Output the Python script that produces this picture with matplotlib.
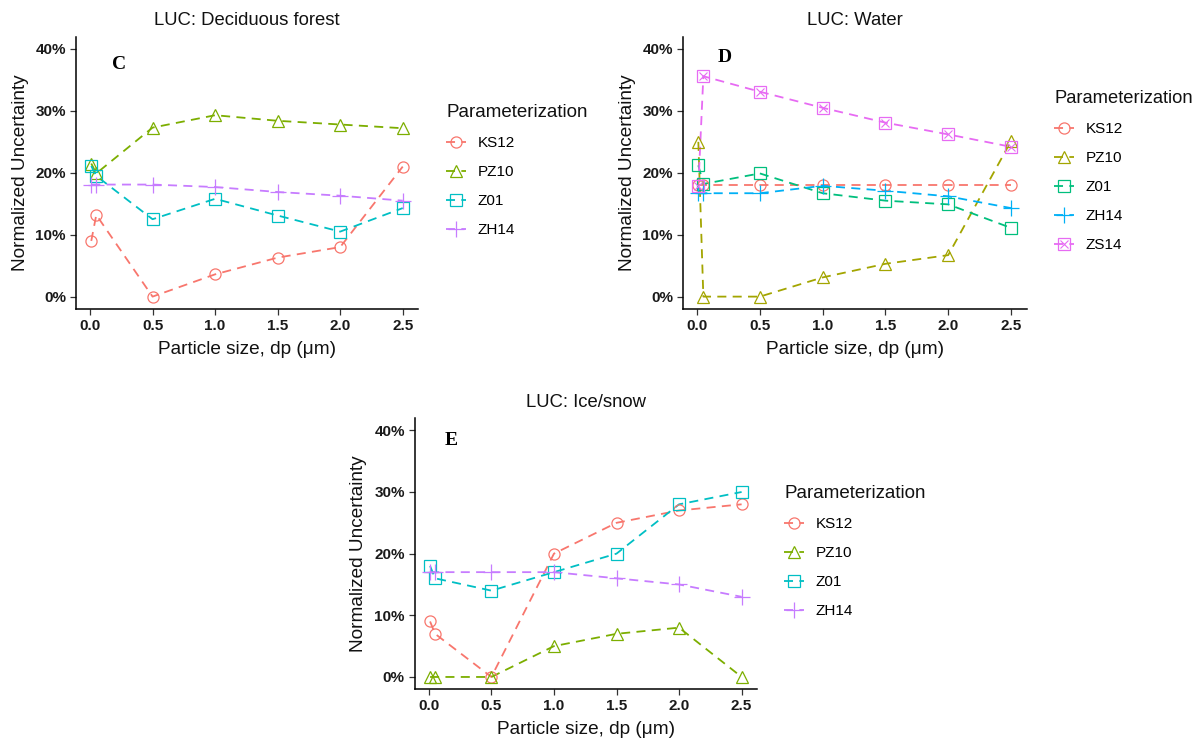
import matplotlib
matplotlib.use("Agg")
import matplotlib.pyplot as plt
from matplotlib.ticker import FuncFormatter
from matplotlib.lines import Line2D

plt.rcParams['font.family'] = ['Liberation Sans', 'DejaVu Sans']

# ---------------- data ----------------
dp = [0.01, 0.05, 0.5, 1.0, 1.5, 2.0, 2.5]

# Panel C: Deciduous forest
c_ks12 = [9.0, 13.2, 0.0, 3.6, 6.3, 8.0, 21.0]
c_pz10 = [21.5, 19.9, 27.3, 29.3, 28.4, 27.8, 27.2]
c_z01 = [21.1, 19.5, 12.5, 15.8, 13.1, 10.5, 14.3]
c_zh14 = [18.1, 18.1, 18.1, 17.7, 16.9, 16.3, 15.5]

# Panel D: Water
d_ks12 = [18.0, 18.0, 18.0, 18.0, 18.0, 18.0, 18.0]
d_pz10 = [25.0, 0.0, 0.0, 3.1, 5.3, 6.7, 25.1]
d_z01 = [21.2, 18.2, 19.9, 16.7, 15.5, 14.9, 11.1]
d_zh14 = [16.7, 16.7, 16.7, 17.9, 17.1, 16.2, 14.3]
d_zs14 = [17.8, 35.6, 33.1, 30.5, 28.1, 26.2, 24.2]

# Panel E: Ice/snow
e_ks12 = [9.0, 7.0, 0.0, 20.0, 25.0, 27.0, 28.0]
e_pz10 = [0.0, 0.0, 0.0, 5.0, 7.0, 8.0, 0.0]
e_z01 = [18.0, 16.0, 14.0, 17.0, 20.0, 28.0, 30.0]
e_zh14 = [17.0, 17.0, 17.0, 17.0, 16.0, 15.0, 13.0]

y_ticks = [0, 10, 20, 30, 40]
x_ticks = [0.0, 0.5, 1.0, 1.5, 2.0, 2.5]

# ---------------- style ----------------
W, H = 1198, 738
fig = plt.figure(figsize=(W / 100, H / 100), dpi=100)

def add_axes(l, r, t, b):
    return fig.add_axes([l / W, 1 - b / H, (r - l) / W, (b - t) / H])

four_cols = ['#F8766D', '#7CAE00', '#00BFC4', '#C77CFF']
five_cols = ['#F8766D', '#A3A500', '#00BF7D', '#00B0F6', '#E76BF3']
markers = ['o', '^', 's', '+', 'boxx']
DASH = (0, (5, 3.5))

def draw_marker(ax, x, y, m, col):
    if m == 'boxx':
        ax.plot(x, y, ls='none', marker='s', ms=8, mfc='none', mec=col, mew=0.9, zorder=3)
        ax.plot(x, y, ls='none', marker='x', ms=5.5, mec=col, mew=0.8, zorder=3)
    elif m == '+':
        ax.plot(x, y, ls='none', marker='+', ms=11, mec=col, mew=0.9, zorder=3)
    elif m == '^':
        ax.plot(x, y, ls='none', marker='^', ms=9, mfc='none', mec=col, mew=0.9, zorder=3)
    else:
        ax.plot(x, y, ls='none', marker=m, ms=8, mfc='none', mec=col, mew=0.9, zorder=3)

def legend_handle(m, col):
    if m == 'boxx':
        return (Line2D([], [], color=col, ls=DASH, lw=1.3, marker='s', ms=8,
                       mfc='none', mec=col, mew=0.9),
                Line2D([], [], ls='none', marker='x', ms=5.5, mec=col, mew=0.8))
    if m == '+':
        return Line2D([], [], color=col, ls=DASH, lw=1.3, marker='+', ms=11, mew=0.9)
    return Line2D([], [], color=col, ls=DASH, lw=1.3, marker=m, ms=8 if m != '^' else 9,
                  mfc='none', mec=col, mew=0.9)

def panel(ax, title, letter, letter_xy, series, names, cols, legend_pos, title_fs=13.5):
    for vals, m, col in zip(series, markers, cols):
        yv = [v / 100 for v in vals]
        ax.plot(dp, yv, ls=DASH, color=col, lw=1.3, zorder=2)
        draw_marker(ax, dp, yv, m, col)
    ax.set_xlim(-0.1145, 2.6245)
    ax.set_ylim(-0.02, 0.42)
    ax.set_xticks(x_ticks)
    ax.set_yticks([t / 100 for t in y_ticks])
    ax.xaxis.set_major_formatter(FuncFormatter(lambda v, p: f"{v:.1f}"))
    ax.yaxis.set_major_formatter(FuncFormatter(lambda v, p: f"{v * 100:.0f}%"))
    for s in ['top', 'right']:
        ax.spines[s].set_visible(False)
    for s in ['left', 'bottom']:
        ax.spines[s].set_linewidth(1.1)
        ax.spines[s].set_color('black')
    ax.tick_params(axis='both', length=4, width=0.9, color='#333333',
                   labelsize=11, pad=3)
    for lab in ax.get_xticklabels() + ax.get_yticklabels():
        lab.set_fontweight('bold')
        lab.set_color('#1a1a1a')
    ax.set_xlabel('Particle size, dp (μm)', fontsize=13.7, color='#111111', labelpad=6)
    ax.set_ylabel('Normalized Uncertainty', fontsize=13.7, color='#111111', labelpad=5)
    ax.set_title(title, fontsize=13.3, color='#111111', pad=8)
    ax.text(letter_xy[0], letter_xy[1], letter, fontsize=14, fontweight='bold',
            family='Liberation Serif', ha='center', va='center')
    handles = [legend_handle(m, c) for m, c in zip(markers, cols)]
    leg = ax.legend(handles, names, title='Parameterization', loc='upper left',
                    bbox_to_anchor=legend_pos, bbox_transform=fig.transFigure,
                    frameon=False, fontsize=11, title_fontsize=title_fs,
                    handlelength=1.3, handletextpad=0.75, labelspacing=0.98,
                    alignment='left', borderaxespad=0)
    leg.get_title().set_color('#111111')

axC = add_axes(75.7, 418.3, 36.6, 309)
panel(axC, 'LUC: Deciduous forest', 'C', (0.23, 0.375),
      [c_ks12, c_pz10, c_z01, c_zh14], ['KS12', 'PZ10', 'Z01', 'ZH14'],
      four_cols, (440 / W, 1 - 98 / H))

axD = add_axes(682.7, 1026.6, 36.6, 309)
panel(axD, 'LUC: Water', 'D', (0.22, 0.386),
      [d_ks12, d_pz10, d_z01, d_zh14, d_zs14], ['KS12', 'PZ10', 'Z01', 'ZH14', 'ZS14'],
      five_cols, (1048 / W, 1 - 84 / H), title_fs=13.2)

axE = add_axes(414.5, 757.2, 418, 689.3)
panel(axE, 'LUC: Ice/snow', 'E', (0.18, 0.383),
      [e_ks12, e_pz10, e_z01, e_zh14], ['KS12', 'PZ10', 'Z01', 'ZH14'],
      four_cols, (778 / W, 1 - 479 / H))

fig.savefig('out.png', dpi=100, facecolor='white')
